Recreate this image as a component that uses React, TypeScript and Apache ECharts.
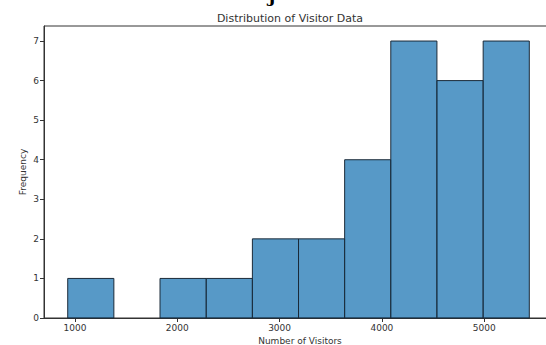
import React, { useEffect, useRef } from "react";
import * as echarts from "echarts";

const binStarts = [929, 1380, 1831, 2283, 2734, 3185, 3636, 4087, 4538, 4990];
const binEnds = [1380, 1831, 2283, 2734, 3185, 3636, 4087, 4538, 4990, 5441];
const counts = [1, 0, 1, 1, 2, 2, 4, 7, 6, 7];
const xTicks = [1000, 2000, 3000, 4000, 5000];
const yTicks = [0, 1, 2, 3, 4, 5, 6, 7];

export default function App() {
  const ref = useRef<HTMLDivElement>(null);
  useEffect(() => {
    if (!ref.current) return;
    const chart = echarts.init(ref.current, undefined, { renderer: "svg" });
    const data = binStarts.map((s, i) => [s, binEnds[i], counts[i]]);
    chart.setOption({
      animation: false,
      textStyle: { fontFamily: "DejaVu Sans" },
      title: {
        text: "Distribution of Visitor Data",
        left: 285,
        top: 8,
        textAlign: "center",
        textStyle: { fontSize: 11, fontWeight: "normal", color: "#333" },
      },
      graphic: [
        {
          type: "text",
          left: 268,
          top: -13,
          style: { text: "J", font: "bold 17px DejaVu Serif", fill: "#000" },
        },
      ],
      grid: {
        left: 44,
        top: 26,
        width: 512,
        height: 292,
        outerBoundsMode: "none",
        containLabel: false,
        show: true,
        borderColor: "#333",
        borderWidth: 1,
        backgroundColor: "transparent",
      },
      xAxis: {
        type: "value",
        min: 697,
        max: 5702,
        name: "Number of Visitors",
        nameLocation: "middle",
        nameGap: 18,
        nameTextStyle: { fontSize: 9, color: "#333" },
        splitLine: { show: false },
        axisLine: { show: true, lineStyle: { color: "#333" } },
        axisTick: { show: true, length: 4, customValues: xTicks, lineStyle: { color: "#333" } },
        axisLabel: {
          customValues: xTicks,
          fontSize: 9,
          color: "#333",
          margin: 5,
          formatter: (v: number) => String(v),
        },
      },
      yAxis: {
        type: "value",
        min: 0,
        max: 7.38,
        name: "Frequency",
        nameLocation: "middle",
        nameGap: 17,
        nameMoveOverlap: false,
        nameRotate: 90,
        nameTextStyle: { fontSize: 9, color: "#333" },
        splitLine: { show: false },
        axisLine: { show: true, lineStyle: { color: "#333" } },
        axisTick: { show: true, length: 4, customValues: yTicks, lineStyle: { color: "#333" } },
        axisLabel: { customValues: yTicks, fontSize: 9, color: "#333", margin: 5 },
      },
      series: [
        {
          type: "custom",
          data,
          encode: { x: [0, 1], y: 2 },
          renderItem: (params: any, api: any) => {
            const c = api.value(2);
            if (!c) return null;
            const p0 = api.coord([api.value(0), 0]);
            const p1 = api.coord([api.value(1), c]);
            return {
              type: "rect",
              shape: { x: p0[0], y: p1[1], width: p1[0] - p0[0], height: p0[1] - p1[1] },
              style: { fill: "rgba(31,119,180,0.75)", stroke: "#1b2a38", lineWidth: 1 },
            };
          },
        },
      ],
    });
    return () => chart.dispose();
  }, []);
  return (
    <div
      ref={ref}
      style={{ position: "absolute", left: 0, top: 0, width: 546, height: 345 }}
    />
  );
}
